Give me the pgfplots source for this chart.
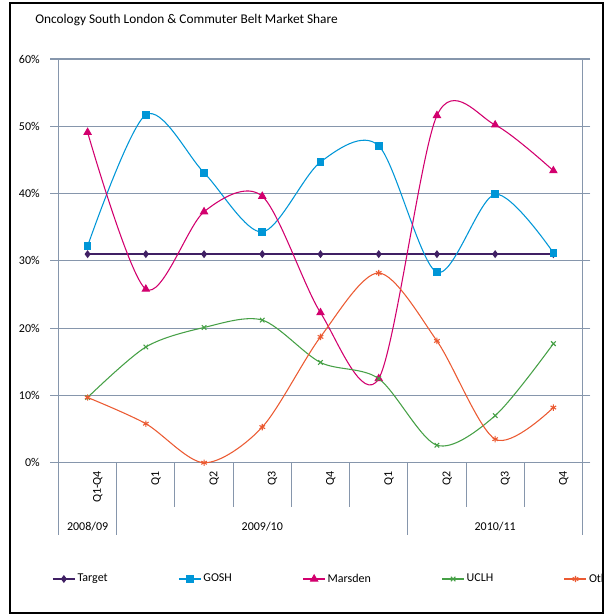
\documentclass[border=0pt]{standalone}
\usepackage{pgfplots}
\pgfplotsset{compat=1.18}
\usepackage{fontspec}
\setmainfont{Carlito}
\definecolor{axcol}{RGB}{134,150,172}
\definecolor{ctarget}{RGB}{64,32,100}
\definecolor{cgosh}{RGB}{0,150,215}
\definecolor{cmars}{RGB}{210,0,110}
\definecolor{cuclh}{RGB}{70,160,70}
\definecolor{cother}{RGB}{235,90,50}
\begin{document}
\begin{tikzpicture}
\begin{axis}[
  at={(0,0)}, anchor=south west,
  scale only axis, width=393pt, height=302.8pt,
  xmin=0, xmax=9, ymin=0, ymax=60,
  clip=false,
  xtick={0.5,1.5,2.5,3.5,4.5,5.5,6.5,7.5,8.5},
  xticklabels={Q1-Q4,Q1,Q2,Q3,Q4,Q1,Q2,Q3,Q4},
  xtick style={draw=none},
  xticklabel style={rotate=90, anchor=east, inner sep=0pt, yshift=-7.7pt, font=\fontsize{9}{10}\selectfont},
  ytick={0,10,20,30,40,50,60},
  yticklabel={\pgfmathprintnumber{\tick}\%},
  yticklabel style={inner sep=0pt, xshift=-7.9pt, font=\fontsize{9}{10}\selectfont},
  /pgf/number format/assume math mode=true,
  ymajorgrids, grid style={axcol, line width=0.6pt},
  axis line style={axcol, line width=0.8pt},
  ytick style={axcol, line width=0.8pt},
  tick align=outside, major tick length=6pt,
  every axis plot/.append style={smooth, line width=0.8pt},
  legend columns=5,
  legend style={at={(-0.0125,-0.288)}, anchor=west, draw=none, fill=none,
    font=\fontsize{9}{10}\selectfont, inner sep=0pt,
    nodes={inner sep=1.5pt},
    /tikz/every even column/.append style={column sep=51.5pt}},
  legend image code/.code={
    \draw[#1, mark=none] (0pt,0pt) -- (16.5pt,0pt);
    \draw[#1, only marks] plot coordinates {(8.25pt,0pt)};
  },
]
\addplot[ctarget, line width=1pt, mark=diamond*, mark size=2.2pt, smooth=false] coordinates {
 (0.5,31) (1.5,31) (2.5,31) (3.5,31) (4.5,31) (5.5,31) (6.5,31) (7.5,31) (8.5,31)};
\addlegendentry{Target}
\addplot[cgosh, mark=square*, mark size=2.5pt] coordinates {
 (0.5,32.2) (1.5,51.7) (2.5,43.1) (3.5,34.3) (4.5,44.7) (5.5,47.1) (6.5,28.3) (7.5,39.9) (8.5,31.2)};
\addlegendentry{GOSH}
\addplot[cmars, mark=triangle*, mark size=3pt] coordinates {
 (0.5,49.1) (1.5,25.8) (2.5,37.3) (3.5,39.6) (4.5,22.3) (5.5,12.5) (6.5,51.6) (7.5,50.2) (8.5,43.4)};
\addlegendentry{Marsden}
\addplot[cuclh, mark=x, mark size=2.4pt] coordinates {
 (0.5,9.7) (1.5,17.2) (2.5,20.1) (3.5,21.2) (4.5,14.9) (5.5,12.5) (6.5,2.6) (7.5,7.0) (8.5,17.7)};
\addlegendentry{UCLH}
\addplot[cother, mark=asterisk, mark size=2.4pt] coordinates {
 (0.5,9.7) (1.5,5.8) (2.5,0) (3.5,5.3) (4.5,18.7) (5.5,28.2) (6.5,18.1) (7.5,3.5) (8.5,8.2)};
\addlegendentry{Other}
\draw[axcol, line width=0.6pt] (axis cs:9,0) -- (axis cs:9,60);
\pgfplotsinvokeforeach{0,1,6,9}{\draw[axcol, line width=0.8pt] (axis cs:#1,0) -- ++(0pt,-54pt);}
\pgfplotsinvokeforeach{2,3,4,5,7,8}{\draw[axcol, line width=0.8pt] (axis cs:#1,0) -- ++(0pt,-33.2pt);}
\node[font=\fontsize{9}{10}\selectfont] at (axis cs:0.5,0) [yshift=-48.2pt] {2008/09};
\node[font=\fontsize{9}{10}\selectfont] at (axis cs:3.5,0) [yshift=-48.2pt] {2009/10};
\node[font=\fontsize{9}{10}\selectfont] at (axis cs:7.5,0) [yshift=-48.2pt] {2010/11};
\end{axis}
\node[anchor=west, font=\fontsize{10}{12}\selectfont, inner sep=0pt] at (-17.6pt,332pt) {Oncology South London \& Commuter Belt Market Share};
\fill[white] (408.6pt,-120pt) rectangle (420pt,350pt);
\draw[black, line width=1pt] (-36.4pt,-112.7pt) rectangle (408.4pt,344.8pt);
\pgfresetboundingbox
\useasboundingbox (-43.875pt,-114.2pt) rectangle (412.125pt,347.05pt);
\end{tikzpicture}
\end{document}
